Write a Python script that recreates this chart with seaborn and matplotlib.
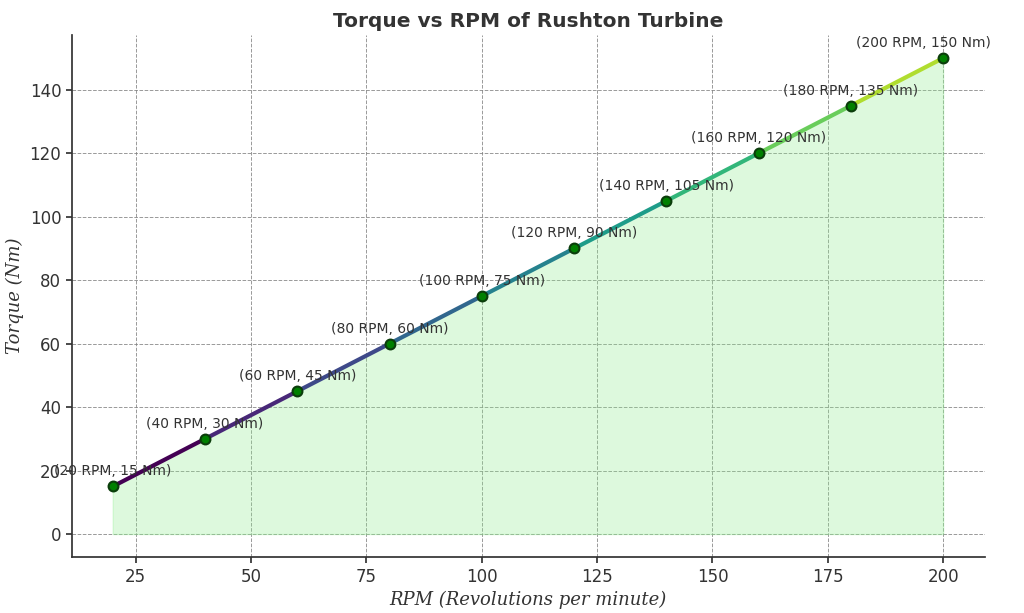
import numpy as np
import matplotlib
matplotlib.use("Agg")
import matplotlib.pyplot as plt
from matplotlib.collections import LineCollection
import seaborn as sns

rpm = [20, 40, 60, 80, 100, 120, 140, 160, 180, 200]
torque = [15, 30, 45, 60, 75, 90, 105, 120, 135, 150]

sns.set_theme(style="white")
fig, ax = plt.subplots(figsize=(10.24, 6.13), dpi=100)
fig.subplots_adjust(left=0.07, right=0.962, top=0.943, bottom=0.091)

ax.fill_between(rpm, torque, 0, color="#90ee90", alpha=0.3, zorder=1)

pts = np.column_stack([rpm, torque])
segs = np.stack([pts[:-1], pts[1:]], axis=1)
cmap = plt.get_cmap("viridis")
colors = [cmap(i / (len(segs) - 1) * 0.88) for i in range(len(segs))]
ax.add_collection(LineCollection(segs, colors=colors, linewidths=3, zorder=2))

sns.scatterplot(x=rpm, y=torque, ax=ax, color="green", edgecolor="#0b3d0b",
                s=50, linewidth=1.5, zorder=3)

for x, y in zip(rpm, torque):
    dx = -14 if x == max(rpm) else 0
    ax.annotate(f"({x} RPM, {y} Nm)", (x, y), xytext=(dx, 8),
                textcoords="offset points", ha="center", fontsize=10, color="#333333")

ax.set_xlim(11.1, 209.1)
ax.set_ylim(-7.3, 157.3)
ax.grid(True, linestyle="--", color="gray", linewidth=0.7, alpha=0.8)
for s in ["top", "right"]:
    ax.spines[s].set_visible(False)
for s in ["left", "bottom"]:
    ax.spines[s].set_color("#333333")
ax.tick_params(labelsize=12, colors="#333333", left=True, bottom=True, length=4)

ax.set_title("Torque vs RPM of Rushton Turbine", fontsize=14.5, fontweight="bold", color="#333333")
ax.set_xlabel("RPM (Revolutions per minute)", fontsize=13, family="DejaVu Serif",
              style="italic", color="#333333")
ax.set_ylabel("Torque (Nm)", fontsize=13, family="DejaVu Serif", style="italic",
              color="#333333")

fig.savefig("out.png")
